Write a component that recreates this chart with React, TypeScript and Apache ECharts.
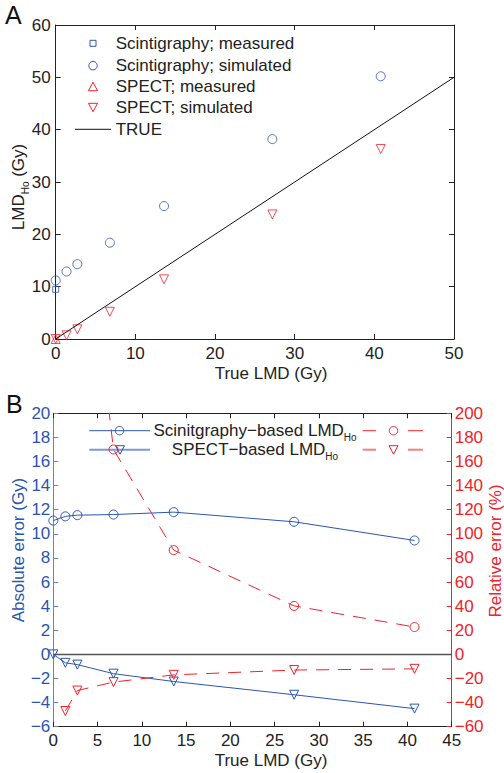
import React, { useEffect, useRef } from "react";
import * as echarts from "echarts";

// ---------- data ----------
const trueDose = [0, 1.36, 2.72, 6.8, 13.6, 27.2, 40.8];
const scintSimulated = [11.2, 12.9, 14.3, 18.4, 25.4, 38.2, 50.2];
const spectSimulated = [0, 0.7, 1.85, 5.2, 11.4, 23.8, 36.3];
const scintMeasuredDose = [0];
const scintMeasured = [9.5];
const spectMeasuredDose = [0];
const spectMeasured = [0];
const identityLine = [0, 50];

const scintAbsError = [11.1, 11.45, 11.55, 11.6, 11.8, 11.0, 9.45];
const spectAbsError = [0, -0.7, -0.85, -1.6, -2.25, -3.35, -4.5];
const scintRelError: (number | null)[] = [null, 842, 425, 170, 86.5, 40.2, 22.7];
const spectRelError: (number | null)[] = [null, -47, -30, -23, -17, -13, -12];
const zeroLineX = [0, 45];

const topLegendLabels = [
  "Scintigraphy; measured",
  "Scintigraphy; simulated",
  "SPECT; measured",
  "SPECT; simulated",
  "TRUE",
];
const bottomLegendLabels = ["Scinitgraphy\u2212based LMD", "SPECT\u2212based LMD"];

// ---------- styles ----------
const FONT = '"Liberation Sans", Arial, Helvetica, sans-serif';
const BLUE = "#2b55b3";
const BLUE_AXIS = "#5f86cc";
const RED = "#f0222b";
const DARK = "#222";
const FS = 17;

const pairs = (xs: number[], ys: (number | null)[]) =>
  xs.map((x, i) => [x, ys[i] === null ? "-" : ys[i]]);

const minus = (v: number) => String(v).replace("-", "\u2212");

function axisBase(color: string, labelColor: string, showLabel: boolean, margin: number) {
  return {
    type: "value" as const,
    splitLine: { show: false },
    axisLine: { show: true, onZero: false, lineStyle: { color, width: 1 } },
    axisTick: { show: true, inside: true, length: 5, lineStyle: { color } },
    axisLabel: {
      show: showLabel,
      color: labelColor,
      fontSize: FS,
      fontFamily: FONT,
      margin,
      formatter: minus,
    },
  };
}

export default function App() {
  const ref = useRef<HTMLDivElement>(null);

  useEffect(() => {
    document.body.style.margin = "0";
    if (!ref.current) return;
    const chart = echarts.init(ref.current, null, { renderer: "svg" });

    const hollow = (color: string) => ({
      color: "rgba(0,0,0,0)",
      borderColor: color,
      borderWidth: 1,
    });

    const subRich = (color: string) => ({
      a: { fontSize: FS, fontFamily: FONT, fill: color, lineHeight: 24 },
      s: { fontSize: 10, fontFamily: FONT, fill: color, lineHeight: 10, verticalAlign: "bottom" },
    });

    const topRows = [43.3, 65.7, 86.7, 107.3, 129.3];
    const legMX = 93;
    const legTX = 115.7;

    const graphic: any[] = [
      // panel letters
      { type: "text", left: 5, top: 2, style: { text: "A", fontSize: 25, fontFamily: FONT, fill: "#111" } },
      { type: "text", left: 6, top: 391, style: { text: "B", fontSize: 25, fontFamily: FONT, fill: "#111" } },
      // top legend markers
      { type: "rect", shape: { x: legMX - 3, y: topRows[0] - 3, width: 6, height: 6 }, style: { fill: "none", stroke: BLUE, lineWidth: 1 } },
      { type: "circle", shape: { cx: legMX, cy: topRows[1], r: 4.2 }, style: { fill: "none", stroke: BLUE, lineWidth: 1 } },
      {
        type: "polygon",
        shape: { points: [[legMX, topRows[2] - 4.5], [legMX + 4.5, topRows[2] + 4], [legMX - 4.5, topRows[2] + 4]] },
        style: { fill: "none", stroke: RED, lineWidth: 1 },
      },
      {
        type: "polygon",
        shape: { points: [[legMX - 4.5, topRows[3] - 4], [legMX + 4.5, topRows[3] - 4], [legMX, topRows[3] + 4.5]] },
        style: { fill: "none", stroke: RED, lineWidth: 1 },
      },
      { type: "line", shape: { x1: 75, y1: topRows[4], x2: 111, y2: topRows[4] }, style: { stroke: "#111", lineWidth: 1 } },
      ...topLegendLabels.map((t, i) => ({
        type: "text",
        x: legTX,
        y: topRows[i],
        style: { text: t, fontSize: FS, fontFamily: FONT, fill: DARK, align: "left", verticalAlign: "middle" },
      })),
      // axis titles
      {
        type: "text",
        x: 271,
        y: 373,
        style: { text: "True LMD (Gy)", fontSize: FS, fontFamily: FONT, fill: DARK, align: "center", verticalAlign: "middle" },
      },
      {
        type: "text",
        x: 271,
        y: 760,
        style: { text: "True LMD (Gy)", fontSize: FS, fontFamily: FONT, fill: DARK, align: "center", verticalAlign: "middle" },
      },
      {
        type: "text",
        x: 18,
        y: 187,
        rotation: Math.PI / 2,
        style: {
          text: "{a|LMD}{s|Ho}{a| (Gy)}",
          rich: subRich(DARK),
          align: "center",
          verticalAlign: "middle",
        },
      },
      {
        type: "text",
        x: 18,
        y: 550,
        rotation: Math.PI / 2,
        style: { text: "Absolute error (Gy)", fontSize: FS, fontFamily: FONT, fill: BLUE, align: "center", verticalAlign: "middle" },
      },
      {
        type: "text",
        x: 495,
        y: 551,
        rotation: Math.PI / 2,
        style: { text: "Relative error (%)", fontSize: FS, fontFamily: FONT, fill: RED, align: "center", verticalAlign: "middle" },
      },
    ];

    // bottom legend
    const bRows = [430.7, 449.7];
    const bLine = [
      { c: BLUE, w: 1 },
      { c: "#7d98d6", w: 2 },
    ];
    const rLine = [
      { c: RED, w: 1 },
      { c: "#f27f85", w: 2 },
    ];
    bRows.forEach((y, i) => {
      graphic.push({ type: "line", shape: { x1: 89.3, y1: y, x2: 150, y2: y }, style: { stroke: bLine[i].c, lineWidth: bLine[i].w } });
      graphic.push({ type: "line", shape: { x1: 362.7, y1: y, x2: 376, y2: y }, style: { stroke: rLine[i].c, lineWidth: rLine[i].w } });
      graphic.push({ type: "line", shape: { x1: 408, y1: y, x2: 423, y2: y }, style: { stroke: rLine[i].c, lineWidth: rLine[i].w } });
      if (i === 0) {
        graphic.push({ type: "circle", shape: { cx: 119.5, cy: y, r: 4.2 }, style: { fill: "none", stroke: BLUE, lineWidth: 1 } });
        graphic.push({ type: "circle", shape: { cx: 393.5, cy: y, r: 4.2 }, style: { fill: "none", stroke: RED, lineWidth: 1 } });
      } else {
        const tri = (cx: number, color: string) => ({
          type: "polygon",
          shape: { points: [[cx - 4.5, y - 4], [cx + 4.5, y - 4], [cx, y + 4.5]] },
          style: { fill: "none", stroke: color, lineWidth: 1 },
        });
        graphic.push(tri(120, BLUE));
        graphic.push(tri(393.5, RED));
      }
      graphic.push({
        type: "text",
        x: 255,
        y,
        style: {
          text: `{a|${bottomLegendLabels[i]}}{s|Ho}`,
          rich: subRich(DARK),
          align: "center",
          verticalAlign: "middle",
        },
      });
    });

    const option: any = {
      animation: false,
      backgroundColor: "#fff",
      grid: [
        { left: 55.7, top: 25, width: 398.3, height: 314 },
        { left: 53.3, top: 413.3, width: 398.4, height: 313.4 },
      ],
      xAxis: [
        { ...axisBase(DARK, DARK, true, 6), gridIndex: 0, position: "bottom", min: 0, max: 50, interval: 10 },
        { ...axisBase(DARK, DARK, false, 6), gridIndex: 0, position: "top", min: 0, max: 50, interval: 10 },
        { ...axisBase(DARK, DARK, true, 5), gridIndex: 1, position: "bottom", min: 0, max: 45, interval: 5 },
        { ...axisBase(DARK, DARK, false, 5), gridIndex: 1, position: "top", min: 0, max: 45, interval: 5 },
      ],
      yAxis: [
        { ...axisBase(DARK, DARK, true, 5), gridIndex: 0, position: "left", min: 0, max: 60, interval: 10 },
        { ...axisBase(DARK, DARK, false, 5), gridIndex: 0, position: "right", min: 0, max: 60, interval: 10 },
        { ...axisBase(BLUE_AXIS, BLUE, true, 3), gridIndex: 1, position: "left", min: -6, max: 20, interval: 2 },
        { ...axisBase(RED, RED, true, 3), gridIndex: 1, position: "right", min: -60, max: 200, interval: 20 },
      ],
      series: [
        // ---- panel A ----
        {
          name: "TRUE",
          type: "line",
          xAxisIndex: 0,
          yAxisIndex: 0,
          data: pairs(identityLine, identityLine),
          symbol: "none",
          lineStyle: { color: "#111", width: 1 },
        },
        {
          name: "Scintigraphy; simulated",
          type: "scatter",
          xAxisIndex: 0,
          yAxisIndex: 0,
          data: pairs(trueDose, scintSimulated),
          symbol: "circle",
          symbolSize: 9,
          itemStyle: hollow(BLUE),
        },
        {
          name: "Scintigraphy; measured",
          type: "scatter",
          xAxisIndex: 0,
          yAxisIndex: 0,
          data: pairs(scintMeasuredDose, scintMeasured),
          symbol: "rect",
          symbolSize: 6,
          itemStyle: hollow(BLUE),
        },
        {
          name: "SPECT; measured",
          type: "scatter",
          xAxisIndex: 0,
          yAxisIndex: 0,
          data: pairs(spectMeasuredDose, spectMeasured),
          symbol: "triangle",
          symbolSize: 9,
          itemStyle: hollow(RED),
        },
        {
          name: "SPECT; simulated",
          type: "scatter",
          xAxisIndex: 0,
          yAxisIndex: 0,
          data: pairs(trueDose, spectSimulated),
          symbol: "triangle",
          symbolRotate: 180,
          symbolSize: 9,
          itemStyle: hollow(RED),
        },
        // ---- panel B ----
        {
          name: "zero",
          type: "line",
          xAxisIndex: 2,
          yAxisIndex: 2,
          data: pairs(zeroLineX, [0, 0]),
          symbol: "none",
          lineStyle: { color: "#555", width: 1.5 },
        },
        {
          name: "Scint abs",
          type: "line",
          xAxisIndex: 2,
          yAxisIndex: 2,
          data: pairs(trueDose, scintAbsError),
          symbol: "circle",
          symbolSize: 9,
          lineStyle: { color: BLUE, width: 1 },
          itemStyle: hollow(BLUE),
        },
        {
          name: "SPECT abs",
          type: "line",
          xAxisIndex: 2,
          yAxisIndex: 2,
          data: pairs(trueDose, spectAbsError),
          symbol: "triangle",
          symbolRotate: 180,
          symbolSize: 9,
          lineStyle: { color: BLUE, width: 1 },
          itemStyle: hollow(BLUE),
        },
        {
          name: "Scint rel",
          type: "line",
          xAxisIndex: 2,
          yAxisIndex: 3,
          data: pairs(trueDose, scintRelError),
          symbol: "circle",
          symbolSize: 9,
          clip: true,
          lineStyle: { color: RED, width: 1, type: [13, 9] },
          itemStyle: hollow(RED),
        },
        {
          name: "SPECT rel",
          type: "line",
          xAxisIndex: 2,
          yAxisIndex: 3,
          data: pairs(trueDose, spectRelError),
          symbol: "triangle",
          symbolRotate: 180,
          symbolSize: 9,
          lineStyle: { color: RED, width: 1, type: [13, 9] },
          itemStyle: hollow(RED),
        },
      ],
      graphic,
    };

    chart.setOption(option);
    return () => chart.dispose();
  }, []);

  return <div ref={ref} style={{ width: 504, height: 773 }} />;
}
